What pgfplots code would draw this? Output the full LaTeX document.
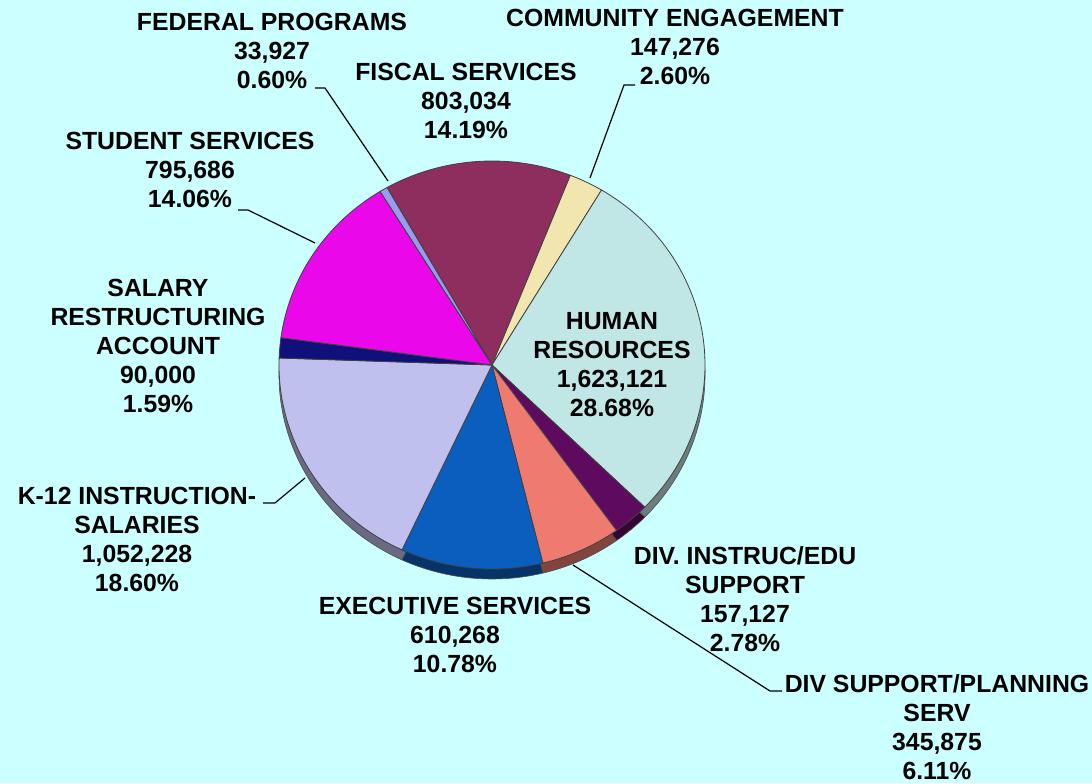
\documentclass[border=0pt]{standalone}
\usepackage{pgfplots}
\pgfplotsset{compat=1.18}
\usepackage{pgfplotstable}
\usepackage{fontspec}
\setmainfont{Liberation Sans}

\definecolor{bgc}{HTML}{CCFFFF}
\definecolor{cFiscal}{HTML}{8E2E5E}
\definecolor{cCommunity}{HTML}{F2E6B0}
\definecolor{cHuman}{HTML}{C0E6E6}
\definecolor{cDivInstr}{HTML}{5E0A5E}
\definecolor{cDivSupp}{HTML}{EE7A70}
\definecolor{cExec}{HTML}{0A5EBE}
\definecolor{cKtwelve}{HTML}{C0C0EE}
\definecolor{cSalary}{HTML}{10107A}
\definecolor{cStudent}{HTML}{EA08EA}
\definecolor{cFederal}{HTML}{9A9AF0}

\tikzset{lbl/.style={align=center, inner sep=0pt, font=\fontsize{12.4}{14.5}\selectfont\bfseries},
  lead/.style={line width=0.6pt, black}}

% slices clockwise, starting at the Federal/Fiscal boundary
\pgfplotstableread{
value   pct   col
803034  14.19 cFiscal
147276  2.60  cCommunity
1623121 28.68 cHuman
157127  2.78  cDivInstr
345875  6.11  cDivSupp
610268  10.78 cExec
1052228 18.60 cKtwelve
90000   1.59  cSalary
795686  14.06 cStudent
33927   0.60  cFederal
}\slices

\def\cx{492}\def\cy{418}\def\rimcy{408}
\def\rx{106.5pt}\def\ry{102pt}

\begin{document}
\begin{tikzpicture}
\begin{axis}[hide axis, scale only axis, width=546pt, height=391.5pt,
  xmin=0, xmax=1092, ymin=0, ymax=783, clip=false]
\fill[bgc] (axis cs:0,0) rectangle (axis cs:1092,783);
\pgfplotstablegetrowsof{\slices}
\pgfmathtruncatemacro{\nrows}{\pgfplotsretval-1}
% rim (shifted, darker)
\def\angA{119.5}
\pgfplotsforeachungrouped \i in {0,...,\nrows}{%
  \pgfplotstablegetelem{\i}{pct}\of{\slices}\let\p\pgfplotsretval
  \pgfplotstablegetelem{\i}{col}\of{\slices}\let\c\pgfplotsretval
  \pgfmathsetmacro{\angB}{\angA-3.6*\p}%
  \edef\cmd{\noexpand\fill[\c!55!black, draw=black!70, line width=0.3pt]
    (axis cs:\cx,\rimcy) -- ++(\angA:\rx\space and \ry)
    arc[start angle=\angA, end angle=\angB, x radius=\rx, y radius=\ry] -- cycle;}%
  \cmd
  \global\let\angA\angB
}
% top face
\def\angA{119.5}
\pgfplotsforeachungrouped \i in {0,...,\nrows}{%
  \pgfplotstablegetelem{\i}{pct}\of{\slices}\let\p\pgfplotsretval
  \pgfplotstablegetelem{\i}{col}\of{\slices}\let\c\pgfplotsretval
  \pgfmathsetmacro{\angB}{\angA-3.6*\p}%
  \edef\cmd{\noexpand\fill[\c, draw=black!75, line width=0.4pt]
    (axis cs:\cx,\cy) -- ++(\angA:\rx\space and \ry)
    arc[start angle=\angA, end angle=\angB, x radius=\rx, y radius=\ry] -- cycle;}%
  \cmd
  \global\let\angA\angB
}
% labels
\node[lbl] at (axis cs:272,732) {FEDERAL PROGRAMS\\33,927\\0.60\%};
\node[lbl] at (axis cs:466,682) {FISCAL SERVICES\\803,034\\14.19\%};
\node[lbl] at (axis cs:675,736) {COMMUNITY ENGAGEMENT\\147,276\\2.60\%};
\node[lbl] at (axis cs:190,613) {STUDENT SERVICES\\795,686\\14.06\%};
\node[lbl] at (axis cs:158,437) {SALARY\\RESTRUCTURING\\ACCOUNT\\90,000\\1.59\%};
\node[lbl] at (axis cs:137,243.5) {K-12 INSTRUCTION-\\SALARIES\\1,052,228\\18.60\%};
\node[lbl] at (axis cs:455,148) {EXECUTIVE SERVICES\\610,268\\10.78\%};
\node[lbl] at (axis cs:745,184) {DIV. INSTRUC/EDU\\SUPPORT\\157,127\\2.78\%};
\node[lbl] at (axis cs:937,56) {DIV SUPPORT/PLANNING\\SERV\\345,875\\6.11\%};
\node[lbl] at (axis cs:612,418.5) {HUMAN\\RESOURCES\\1,623,121\\28.68\%};
% leader lines
\draw[lead] (axis cs:315,695) -- (axis cs:325,695) -- (axis cs:388,602);
\draw[lead] (axis cs:635,698) -- (axis cs:624,698) -- (axis cs:590,605);
\draw[lead] (axis cs:238,573) -- (axis cs:248,573) -- (axis cs:315,540);
\draw[lead] (axis cs:263,280) -- (axis cs:275,280) -- (axis cs:305,305);
\draw[lead] (axis cs:782,92) -- (axis cs:770,92) -- (axis cs:573,218);
\end{axis}
\pgfresetboundingbox
\useasboundingbox (current axis.south west) rectangle (current axis.north east);
\end{tikzpicture}
\end{document}
